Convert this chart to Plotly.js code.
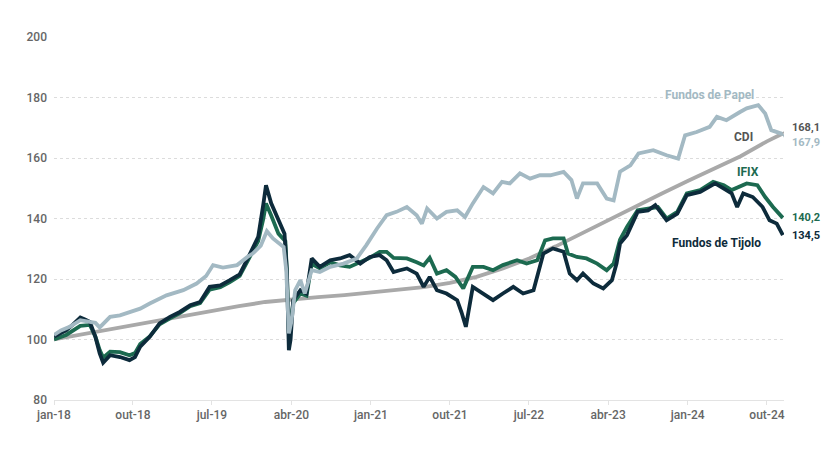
<!DOCTYPE html>
<html>
<head>
<meta charset="utf-8">
<script src="https://cdn.plot.ly/plotly-3.0.1.min.js"></script>
<style>
  html, body { margin: 0; padding: 0; background: #fff; }
  #grafico { width: 837px; height: 453px; }
</style>
</head>
<body>
<div id="grafico"></div>
<script>
// months since jan-18
const mesesCdi = [0, 3, 6, 9, 12, 15, 18, 21, 24, 27, 30, 33, 36, 39, 42, 45, 48, 51, 54, 57, 60, 63, 66, 69, 72, 75, 78, 81, 82.8];
const valoresCdi = [100, 101.6, 103.1, 104.6, 106.2, 107.8, 109.4, 111, 112.4, 113.3, 114, 114.7, 115.5, 116.3, 117.3, 118.7, 120.7, 123.5, 126.8, 130.8, 135.2, 139.4, 143.8, 148.2, 152.4, 156.5, 160.6, 165.5, 168.1];

const mesesPapel = [0, 0.8, 1.8, 3, 4.1, 4.7, 5.2, 6.4, 7.5, 8.6, 9.8, 10.9, 12, 12.8, 14.7, 16.2, 17.3, 18.1, 19.2, 20.8, 22, 22.6, 23.5, 24.2, 24.9, 26.1, 26.4, 26.7, 27, 27.4, 28, 28.5, 29.3, 30.2, 31.4, 32.9, 34.4, 35.5, 36.7, 37.8, 38.9, 40.1, 41.2, 41.8, 42.4, 43.5, 44.6, 45.8, 46.7, 47.6, 48.8, 49.9, 50.9, 51.8, 52.95, 54.1, 55.2, 56.4, 57.9, 58.8, 59.4, 60.1, 61.7, 62.8, 63.6, 64.3, 65.5, 66.4, 68.1, 69.6, 70.9, 71.7, 73, 74.5, 75.3, 76.4, 77.95, 78.7, 80, 80.8, 81.5, 82.1, 82.8];
const valoresPapel = [101.5, 103, 104.2, 106.4, 105.8, 105.5, 104, 107.5, 108, 109.1, 110.2, 111.9, 113.5, 114.6, 116.3, 118.5, 121, 124.6, 123.8, 124.6, 127.3, 128.4, 131, 135.8, 133.4, 130.6, 122.9, 102, 106, 116.3, 119.6, 115.2, 122.9, 122.3, 124, 125.1, 126.8, 131.2, 136.7, 141.1, 142.2, 143.8, 141.1, 138.3, 143.3, 140, 142.2, 142.7, 140.5, 145, 150.4, 148.3, 152.1, 151.6, 154.9, 153.2, 154.3, 154.3, 155.4, 152.7, 146.6, 151.6, 151.6, 146.6, 146, 155.5, 157.6, 161.5, 162.6, 160.9, 159.8, 167.5, 168.6, 170.3, 173.6, 172.5, 175.2, 176.4, 177.5, 174.7, 169.2, 168.6, 167.9];

const mesesIfix = [0, 1.4, 3, 4.1, 4.7, 5.2, 5.6, 6.4, 7.5, 8.6, 9.2, 9.8, 10.9, 12, 13.2, 14.3, 15.5, 16.6, 17.7, 18.9, 20, 21.1, 22.3, 23.2, 23.8, 24.1, 24.7, 25.5, 26.3, 26.45, 26.7, 27.2, 28, 28.7, 29.3, 30.2, 31.4, 32.5, 33.6, 34.8, 35.9, 37, 37.8, 38.6, 39.3, 40.1, 41.2, 42, 42.7, 43.5, 44.6, 45.6, 46.5, 47.6, 48.8, 49.9, 51, 52.6, 53.7, 54.9, 55.8, 56.7, 57.9, 58.4, 59.4, 60.5, 61.7, 62.8, 63.6, 64.3, 65.1, 66.3, 67.5, 68.6, 69.6, 70.8, 71.9, 73.4, 74.9, 76.1, 77, 77.8, 78.7, 79.9, 80.8, 81.7, 82.8];
const valoresIfix = [100, 101.5, 104.5, 104.8, 101, 96.5, 94, 96, 95.8, 94.8, 95.5, 98.5, 101, 105, 107, 108.7, 111, 112, 116.5, 117.3, 119, 121, 127.5, 132.5, 140, 145, 141, 135, 132.5, 123, 102, 112, 115.2, 114.5, 125, 123.5, 125.5, 124.5, 124, 125.5, 127, 129, 129, 127, 126.8, 126.8, 125.5, 124.5, 127, 121.8, 122.9, 120.7, 116.9, 124, 124, 122.9, 124.6, 126.2, 125.1, 126.2, 132.8, 133.4, 133.4, 128.4, 127.3, 126.8, 125.1, 122.9, 125.1, 133, 137.2, 142.7, 143.3, 143.8, 140, 142.2, 148.3, 149.4, 152.1, 151, 149.4, 150.4, 151.6, 151, 147.1, 143.8, 140.2];

const mesesTijolo = [0, 0.8, 1.4, 2.2, 3, 3.6, 4.1, 4.7, 5.2, 5.6, 6.4, 7.5, 8.6, 9.2, 9.8, 10.9, 12, 13.2, 14.3, 15.5, 16.6, 17.7, 18.9, 20, 21.1, 22.3, 23.2, 23.8, 24.1, 24.7, 25.5, 26.2, 26.45, 26.7, 26.9, 27.2, 28, 28.7, 29.3, 30.2, 31.4, 32.5, 33.6, 34.8, 35.9, 37, 37.8, 38.6, 39.3, 40.1, 41.2, 42, 42.7, 43.5, 44.6, 45.8, 46.3, 46.8, 47.6, 48.8, 49.9, 51, 52.2, 53.3, 54.5, 55.6, 56.7, 57.9, 58.6, 59.4, 60.1, 61.3, 62.4, 63.4, 63.9, 64.3, 65.1, 66.3, 67.5, 68.3, 69.6, 70.8, 71.9, 73.4, 75.1, 76.1, 77, 77.6, 78.3, 79.4, 80.5, 81.3, 82.1, 82.8];
const valoresTijolo = [101, 102, 103, 105, 107.3, 106.5, 105.8, 100.9, 95.4, 92.3, 94.8, 94.2, 93.2, 94.2, 97.6, 100.9, 105.3, 107.5, 109.1, 111.3, 112.4, 117.4, 117.9, 119.6, 121.5, 128.4, 133.9, 144.9, 151, 145, 139.4, 135, 122.9, 96.5, 100, 113, 116.3, 115.2, 126.8, 124, 126.2, 126.8, 127.9, 125.1, 127.3, 127.9, 126.2, 122.3, 122.9, 123.5, 121.8, 117.4, 120.7, 116.3, 115.2, 113, 109, 104.2, 117.4, 115.2, 113, 115.2, 117.4, 115.2, 116.3, 128.4, 130.1, 129, 121.8, 119.6, 121.8, 118.5, 116.9, 119.6, 125.1, 131.7, 134.5, 142.2, 142.7, 144.4, 139.4, 141.6, 147.7, 148.8, 151.6, 149.9, 148.3, 143.8, 148.3, 147.1, 143.8, 139.4, 138.3, 134.5];

const tickDatas = ['2018-01-01', '2018-10-01', '2019-07-01', '2020-04-01', '2021-01-01', '2021-10-01', '2022-07-01', '2023-04-01', '2024-01-01', '2024-10-01'];
const tickRotulos = ['jan-18', 'out-18', 'jul-19', 'abr-20', 'jan-21', 'out-21', 'jul-22', 'abr-23', 'jan-24', 'out-24'];

const corPapel = '#a3b9c3', corCdi = '#a9a9a9', corIfix = '#1c6a50', corTijolo = '#0d2b3b';

function mesParaData(m) {
    const base = Date.UTC(2018, 0, 1);
    return new Date(base + m * 30.44 * 86400000).toISOString().slice(0, 10);
}

function serie(meses, valores, cor) {
    return {
        x: meses.map(mesParaData),
        y: valores,
        type: 'scatter',
        mode: 'lines',
        line: { color: cor, width: 3.8 },
        hoverinfo: 'skip'
    };
}

const dados = [
    serie(mesesCdi, valoresCdi, corCdi),
    serie(mesesIfix, valoresIfix, corIfix),
    serie(mesesTijolo, valoresTijolo, corTijolo),
    serie(mesesPapel, valoresPapel, corPapel)
];

const fimX = mesParaData(82.8);
const fonteRotulo = { family: 'Roboto', size: 12, weight: 700 };

function rotuloFinal(valor, y, cor) {
    return {
        x: fimX, y: y, xref: 'x', yref: 'y',
        text: valor, showarrow: false, xanchor: 'left', xshift: 8,
        borderpad: 0,
        font: { family: 'Roboto', size: 11, weight: 700, color: cor }
    };
}

// little leader strokes from the line end to the two close labels
function traco(dx0, y0, dx1, y1, cor) {
    return {
        type: 'line', xref: 'x', yref: 'y', xsizemode: 'pixel', xanchor: fimX,
        x0: dx0, x1: dx1, y0: y0, y1: y1,
        line: { color: cor, width: 1.3 }
    };
}

const layout = {
    width: 837,
    height: 453,
    margin: { l: 54, r: 53, t: 37, b: 53 },
    paper_bgcolor: '#fff',
    plot_bgcolor: '#fff',
    showlegend: false,
    font: { family: 'Roboto', color: '#666' },
    xaxis: {
        type: 'date',
        range: ['2018-01-01', '2024-11-29'],
        tickvals: tickDatas,
        ticktext: tickRotulos,
        showgrid: false,
        showline: true,
        linecolor: '#e3e3e3',
        linewidth: 1,
        ticks: 'outside',
        ticklen: 4,
        tickcolor: '#e3e3e3',
        tickfont: { family: 'Roboto', size: 12, color: '#666', weight: 500 },
        zeroline: false
    },
    yaxis: {
        range: [80, 200],
        tickvals: [80, 100, 120, 140, 160, 180, 200],
        showgrid: true,
        gridcolor: '#dcdcdc',
        griddash: 'dot',
        gridwidth: 1,
        showline: false,
        zeroline: false,
        ticks: '',
        ticklabelstandoff: 6,
        tickfont: { family: 'Roboto', size: 12, color: '#666', weight: 500 }
    },
    shapes: [
        traco(0, 168.1, 4, 169.8, corCdi),
        traco(4, 169.8, 8, 169.8, corCdi),
        traco(0, 167.9, 4, 165.4, corPapel),
        traco(4, 165.4, 8, 165.4, corPapel)
    ],
    annotations: [
        { x: mesParaData(74.5), y: 180.8, text: 'Fundos de Papel', showarrow: false, font: Object.assign({}, fonteRotulo, { color: corPapel }) },
        { x: mesParaData(78.3), y: 166.9, text: 'CDI', showarrow: false, font: Object.assign({}, fonteRotulo, { color: '#555' }) },
        { x: mesParaData(78.9), y: 155.3, text: 'IFIX', showarrow: false, font: Object.assign({}, fonteRotulo, { color: corIfix }) },
        { x: mesParaData(75.3), y: 131.8, text: 'Fundos de Tijolo', showarrow: false, font: Object.assign({}, fonteRotulo, { color: corTijolo }) },
        rotuloFinal('168,1', 170.0, '#555'),
        rotuloFinal('167,9', 165.2, corPapel),
        rotuloFinal('140,2', 140.4, corIfix),
        rotuloFinal('134,5', 134.4, corTijolo)
    ]
};

Plotly.newPlot('grafico', dados, layout, { displayModeBar: false, staticPlot: true });
</script>
</body>
</html>
